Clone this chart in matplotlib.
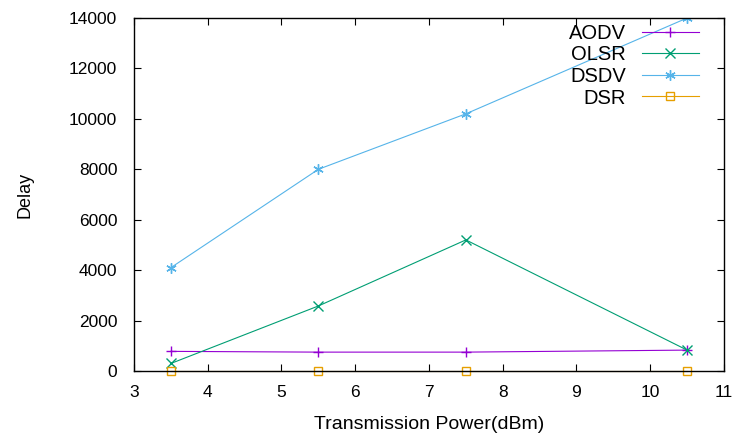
import numpy as np
import matplotlib.pyplot as plt

plt.rcParams['font.family'] = ['Liberation Sans', 'DejaVu Sans']

# данные с графика
power = [3.5, 5.5, 7.5, 10.5]
aodv = [780, 750, 750, 830]
olsr = [300, 2580, 5200, 830]
dsdv = [4100, 8000, 10200, 14000]
dsr = [0, 0, 0, 0]

fig = plt.figure(figsize=(7.33, 4.36), dpi=100)
ax = fig.add_axes([0.1828, 0.149, 0.8049, 0.8097])

ax.plot(power, aodv, color='#9400d3', lw=0.8, marker='+', ms=6.5, mew=1.0, label='AODV')
ax.plot(power, olsr, color='#009e73', lw=0.8, marker='x', ms=7, mew=1.0, label='OLSR')
ax.plot(power, dsdv, color='#56b4e9', lw=0.8, marker=(6, 2, 0), ms=7.5, mew=1.0, label='DSDV')
ax.plot(power, dsr, color='#e69f00', lw=0.8, marker='s', ms=6, mew=1.0, mfc='none', label='DSR',
        clip_on=False)

ax.set_xlim(3, 11)
ax.set_ylim(0, 14000)
ax.set_xticks(np.arange(3, 12, 1))
ax.set_yticks(np.arange(0, 14001, 2000))
ax.tick_params(direction='in', top=True, right=True, length=5, labelsize=12.5)
ax.tick_params(axis='y', pad=12)
ax.tick_params(axis='x', pad=10)
for s in ax.spines.values():
    s.set_linewidth(1.0)

ax.set_xlabel('Transmission Power(dBm)', fontsize=14)
ax.xaxis.set_label_coords(0.5, -0.127)
ax.set_ylabel('Delay', fontsize=13)
ax.yaxis.set_label_coords(-0.171, 0.5)

ax.legend(loc='upper right', markerfirst=False, frameon=False, fontsize=14.5,
          handlelength=2.83, handletextpad=0.8, labelspacing=0.13,
          borderpad=0, borderaxespad=0, bbox_to_anchor=(0.9576, 0.984))

plt.savefig('out.png', dpi=100)
